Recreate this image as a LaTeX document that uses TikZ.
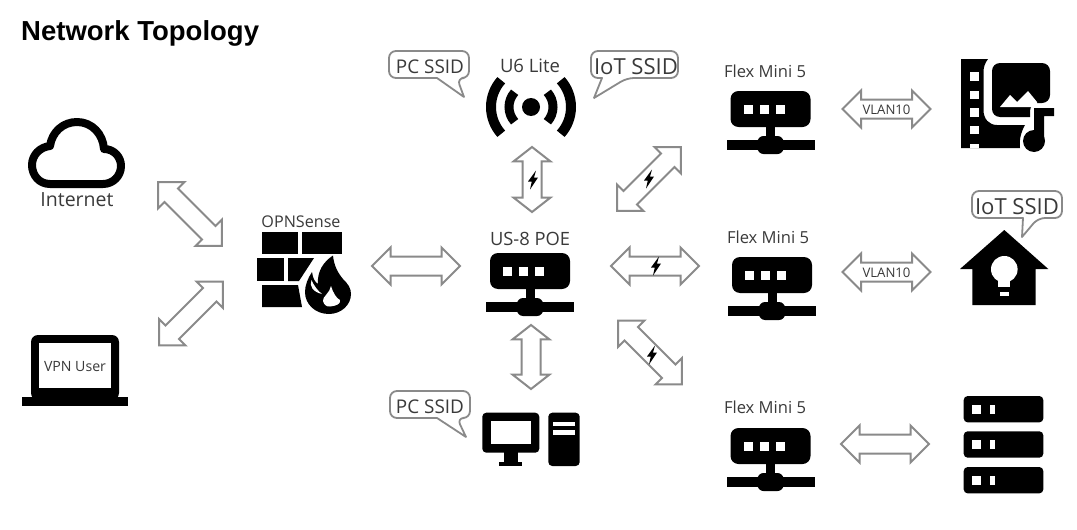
\documentclass[tikz,border=0pt]{standalone}
\usepackage{fontspec}
\usepackage{graphicx}
\setmainfont{Open Sans}
\newfontfamily\titlefont{Liberation Sans}
\usetikzlibrary{shapes.arrows}
\definecolor{edgegray}{HTML}{8A8A8A}
\definecolor{labelink}{HTML}{3A3A3A}
\newcommand{\lbl}[2]{\resizebox{#1pt}{!}{\strut #2}}
\tikzset{
  blockarrow/.style={shape=double arrow,draw=edgegray,fill=white,line width=2pt,
    double arrow head extend=9pt,double arrow tip angle=90,
    minimum width=35pt,minimum height=#1,inner xsep=0pt,inner ysep=0pt,outer sep=0pt,
    text height=8.5pt,text depth=8.5pt,text=labelink},
  blockarrow/.default=88pt,
  vblockarrow/.style={blockarrow=#1,double arrow tip angle=104,rotate=90},
  bubbleline/.style={draw=edgegray,fill=white,line width=1.8pt,line join=round},
  tag/.style={inner sep=0pt,outer sep=0pt,text=labelink,yshift=-3pt},
  ink/.style={fill=black,draw=none},
  hole/.style={fill=white,draw=none},
  switchicon/.pic={
    \fill[ink,rounded corners=8pt] (-40,0) rectangle (40,36);
    \fill[ink] (-4.5,36) rectangle (4.5,47);
    \fill[ink] (-44,49) rectangle (44,59);
    \fill[ink,rounded corners=6pt] (-13,45) rectangle (13,63);
    \fill[hole] (-27,14) rectangle (-18,23);
    \fill[hole] (-11,14) rectangle (-2,23);
    \fill[hole] (5,14) rectangle (14,23);
  },
  servericon/.pic={
    \fill[ink,rounded corners=4pt] (0,0) rectangle (79.6,26.4);
    \fill[hole] (8.6,8.7) rectangle (17.6,17.7);
    \fill[hole] (26.3,8.7) rectangle (31.3,17.7);
  },
  bolt/.pic={
    \fill[ink] (3,-9.5) -- (-5,1.5) -- (-1.2,1.5) -- (-3,9.5) -- (5,-2.5) -- (1,-2.5) -- cycle;
  }
}
\newcommand{\speech}[8]{% x1 y1 x2 y2 ax tx ty bx
  \path[bubbleline,rounded corners=7pt] (#5,#4) -- (#1,#4) -- (#1,#2) -- (#3,#2) -- (#3,#4) -- (#8,#4)
    [sharp corners] -- (#6,#7) -- cycle;
}
\begin{document}
\begin{tikzpicture}[x=1pt,y=-1pt]
\useasboundingbox[fill=white] (0,0) rectangle (1077,530);

\node[anchor=base west,inner sep=0pt,font=\titlefont\bfseries\fontsize{27.5}{30}\selectfont] (title) at (21,40) {Network Topology};

% Cloud
\draw[line width=8pt,line join=round] (50,184) .. controls (39,184) and (32,175) .. (32,165)
  .. controls (32,155) and (40,147) .. (50,146) .. controls (52,132) and (63,122) .. (77,122)
  .. controls (92,122) and (103,134) .. (104,149) .. controls (114,149) and (121,157) .. (121,166)
  .. controls (121,176) and (113,184) .. (103,184) -- cycle;
\node[tag] (internet) at (77,199) {\lbl{73}{Internet}};

% Laptop
\fill[ink,rounded corners=7pt] (31,335) rectangle (119,400);
\fill[hole] (39,343) rectangle (111,388);
\fill[ink] (22,397) rectangle (128,406);
\node[tag] (vpn) at (75,365) {\lbl{62}{VPN User}};

% Firewall
\fill[ink] (262,232) rectangle (298,254);
\fill[ink] (302,232) rectangle (342,254);
\fill[ink] (257,258) rectangle (284,281);
\fill[ink] (288,258) -- (314,258) -- (299,281) -- (288,281) -- cycle;
\fill[ink] (262,285) -- (298,285) -- (302,307) -- (262,307) -- cycle;
\fill[ink] (333,255.5) .. controls (334,266) and (338,273) .. (343,279)
  .. controls (348,284) and (351,288) .. (351,294) .. controls (351,305) and (341,314) .. (329,314)
  .. controls (315,314) and (305,304) .. (305,292) .. controls (305,285) and (308,278) .. (312,272)
  .. controls (313,279) and (315,282) .. (318,284) .. controls (317,272) and (323,262) .. (333,255.5) -- cycle;
\fill[hole] (311.5,280) .. controls (309,286) and (313,292) .. (322,294) .. controls (318,291) and (314,286) .. (311.5,280) -- cycle;
\fill[hole] (331,286) .. controls (330,293) and (322,297) .. (323,301) .. controls (324,305) and (327,307) .. (330,306.5)
  .. controls (336,306) and (341,304) .. (340,300) .. controls (337,299) and (333,293) .. (331,286) -- cycle;
\node[tag] (opnsense) at (301,221) {\lbl{79}{OPNSense}};

% Wi-Fi access point
\fill[ink] (531,107) circle (9);
\draw[line width=9pt] (531,107) ++(138:22pt) arc (138:222:22pt);
\draw[line width=9pt] (531,107) ++(-42:22pt) arc (-42:42:22pt);
\draw[line width=10pt] (531,107) ++(138:40pt) arc (138:222:40pt);
\draw[line width=10pt] (531,107) ++(-42:40pt) arc (-42:42:40pt);
\node[tag] (u6) at (530,65) {\lbl{60}{U6 Lite}};

% Switches
\pic at (530,253) {switchicon};
\node[tag] (us8) at (530,238) {\lbl{80}{US-8 POE}};
\pic at (770.5,91) {switchicon};
\node[tag] (flex1) at (765,71) {\lbl{82}{Flex Mini 5}};
\pic at (772,257) {switchicon};
\node[tag] (flex2) at (768,237) {\lbl{82}{Flex Mini 5}};
\pic at (770.5,428) {switchicon};
\node[tag] (flex3) at (765,407) {\lbl{82}{Flex Mini 5}};

% Desktop
\fill[ink,rounded corners=4pt] (482.3,412.7) rectangle (539.3,452.7);
\fill[hole] (490.7,421.3) rectangle (531.3,443.7);
\fill[ink] (504.3,452) rectangle (517.7,462);
\fill[ink] (499.3,461.7) rectangle (522,466);
\fill[ink,rounded corners=4pt] (548.3,412.7) rectangle (579.7,466);
\fill[hole] (552.7,421.7) rectangle (575,426);
\fill[hole] (552.7,430) rectangle (575,435);

% Media library
\fill[ink] (961,59) -- (988,59) .. controls (985,63) and (983.5,67) .. (983.5,72) -- (983.5,110)
  .. controls (983.5,119) and (989,125) .. (997,125) -- (1025,125)
  .. controls (1021,132) and (1019,140) .. (1020,148) -- (961,148) -- cycle;
\foreach \yy/\hh in {72/9,90.7/8.3,108.3/8.7,125.7/8.3,143.5/4.5}
  \fill[hole] (970,\yy) rectangle (979,\yy+\hh);
\fill[ink,rounded corners=8pt] (992,63) -- (1050,63) -- (1050,103) -- (1030,103) [sharp corners] -- (1030,117) [rounded corners=8pt] -- (992,117) -- cycle;
\fill[hole] (1000,107) -- (1010,95) -- (1017,102) -- (1028,91) -- (1037,102) -- (1037,107) -- cycle;
\fill[ink] (1034,108) -- (1054,108) -- (1054,116) -- (1044,116) -- (1044,141) -- (1034,141) -- cycle;
\fill[ink] (1034,141) circle (11);

% Smart home
\fill[ink] (960,269) -- (1004.3,230) -- (1048.3,269) -- (1035.7,269) -- (1035.7,305) -- (972.3,305) -- (972.3,269) -- cycle;
\fill[hole] (1004.3,269.3) circle (13.3);
\fill[hole] (998.3,275) rectangle (1010.3,287);
\fill[hole] (1000,291.7) rectangle (1009,296);

% Servers
\pic at (963.7,396) {servericon};
\pic at (963.7,431.3) {servericon};
\pic at (963.7,467) {servericon};

% Speech bubbles
\speech{389}{51}{469}{78}{437}{464}{97}{457}
\node[tag] (bubblea) at (430,66) {\lbl{68}{PC SSID}};
\speech{591}{51}{678}{78}{602}{594}{98}{627}
\node[tag] (bubbleb) at (636,66) {\lbl{84}{IoT SSID}};
\speech{390}{391}{470}{418}{437}{466}{437}{457}
\node[tag] (bubblec) at (430,406) {\lbl{68}{PC SSID}};
\speech{972}{191}{1062}{218}{1023}{1022}{237}{1038}
\node[tag] (bubbled) at (1017,206) {\lbl{84}{IoT SSID}};

% Block arrows
\node[blockarrow=90pt,rotate=-45] (internetlink) at (190,214) {};
\node[blockarrow=90pt,rotate=45] (vpnlink) at (191,313.5) {};
\node[blockarrow] (opnlink) at (416,266) {};
\node[vblockarrow=65pt] (aplink) at (532,179.5) {};
\node[vblockarrow=64pt] (pclink) at (531,357) {};
\node[blockarrow=90pt,rotate=45] (flexonelink) at (649,179) {};
\node[blockarrow] (flextwolink) at (655,266) {};
\node[blockarrow=90pt,rotate=-45] (flexthreelink) at (650,352.5) {};
\node[blockarrow] (vlanone) at (886.5,109) {\raisebox{-5pt}{\lbl{48}{VLAN10}}};
\node[blockarrow] (vlantwo) at (886.5,272) {\raisebox{-5pt}{\lbl{48}{VLAN10}}};
\node[blockarrow] (serverlink) at (885,444) {};

% Power-over-Ethernet bolts
\pic at (533,180) {bolt};
\pic at (649,179) {bolt};
\pic at (656,266) {bolt};
\pic at (652,355) {bolt};
\end{tikzpicture}
\end{document}
